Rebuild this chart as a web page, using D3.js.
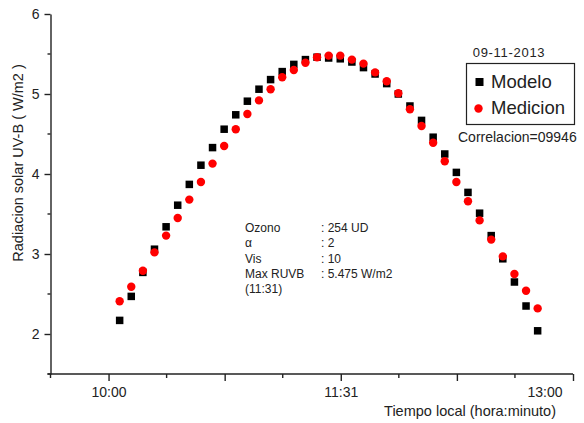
<!doctype html>
<html>
  <head>
    <meta charset="utf-8">
    <title>Radiacion UV-B</title>
    <script src="https://d3js.org/d3.v7.min.js"></script>
    <style type="text/css">
      body { margin: 0; background-color: #ffffff }
      text { font-family: "Liberation Sans", Arial, sans-serif; fill: #222 }
    </style>
  </head>
  <body>
    <script>
      // minutes after 10:00
      var minutos = [4.3, 8.8, 13.3, 17.8, 22.3, 26.8, 31.3, 35.8, 40.3, 44.8,
        49.3, 53.8, 58.3, 62.8, 67.3, 71.8, 76.3, 80.8, 85.3, 89.8,
        94.3, 98.8, 103.3, 107.8, 112.3, 116.8, 121.3, 125.8, 130.3, 134.8,
        139.3, 143.8, 148.3, 152.8, 157.3, 161.8, 166.3];

      var modelo = [2.17, 2.47, 2.77, 3.06, 3.34, 3.61, 3.87, 4.11, 4.33, 4.56,
        4.74, 4.91, 5.06, 5.18, 5.28, 5.37, 5.43, 5.46, 5.45, 5.44,
        5.40, 5.33, 5.25, 5.13, 5.00, 4.85, 4.67, 4.46, 4.25, 4.02,
        3.77, 3.51, 3.23, 2.94, 2.65, 2.35, 2.04];

      var medicion = [2.41, 2.59, 2.79, 3.02, 3.23, 3.45, 3.68, 3.90, 4.13, 4.35,
        4.56, 4.75, 4.92, 5.06, 5.21, 5.30, 5.39, 5.46, 5.48, 5.48,
        5.43, 5.38, 5.27, 5.16, 5.01, 4.81, 4.60, 4.39, 4.16, 3.90,
        3.66, 3.42, 3.18, 2.97, 2.75, 2.54, 2.32];

      var xMayor = [0, 45, 90, 135, 180];
      var xMenor = [-22.5, 22.5, 67.5, 112.5, 157.5];
      var xEtiquetas = {0: "10:00", 90: "11:31", 180: "13:00"};
      var yMayor = [2, 3, 4, 5, 6];
      var yMenor = [1.5, 2.5, 3.5, 4.5, 5.5];

      var info = [["Ozono", ": 254 UD"], ["\u03b1", ": 2"], ["Vis", ": 10"],
        ["Max RUVB", ": 5.475 W/m2"], ["(11:31)", ""]];

      var w = 584, h = 423;

      var x = d3.scaleLinear().domain([-22.5, 180]).range([50.5, 573]);
      var y = d3.scaleLinear().domain([1.5, 6]).range([374, 14]);

      var svg = d3.select("body").append("svg")
        .attr("width", w).attr("height", h);

      // axes
      var gx = svg.append("g").attr("transform", "translate(0," + y(1.5) + ")");
      gx.call(d3.axisBottom(x).tickValues(xMayor).tickSize(7).tickSizeOuter(0)
        .tickFormat(function(d) { return xEtiquetas[d] || ""; }));
      gx.selectAll(".menor").data(xMenor).enter().append("line")
        .attr("class", "menor")
        .attr("x1", function(d) { return x(d); }).attr("x2", function(d) { return x(d); })
        .attr("y1", 0).attr("y2", 4);
      gx.select(".domain").attr("d", "M" + (x.range()[0] - 3) + ",0H" + x.range()[1]);

      var gy = svg.append("g").attr("transform", "translate(" + x(-22.5) + ",0)");
      gy.call(d3.axisLeft(y).tickValues(yMayor).tickSize(6).tickSizeOuter(0)
        .tickFormat(d3.format("d")));
      gy.selectAll(".menor").data(yMenor).enter().append("line")
        .attr("class", "menor")
        .attr("x1", 0).attr("x2", -3)
        .attr("y1", function(d) { return y(d); }).attr("y2", function(d) { return y(d); });

      svg.selectAll(".domain, .tick line, .menor")
        .attr("stroke", "#222").attr("stroke-width", 1.4);
      svg.selectAll(".tick text")
        .attr("font-family", "Liberation Sans, Arial, sans-serif")
        .attr("font-size", 14).attr("fill", "#222");
      gx.selectAll(".tick text").attr("dy", "0.25em").attr("y", 19);
      // last label is pulled in from the right edge, as in the original
      gx.selectAll(".tick text").filter(function(d) { return d === 180; })
        .attr("text-anchor", "end").attr("dx", -11);
      gy.selectAll(".tick text").attr("x", -11);

      // axis titles
      svg.append("text")
        .attr("x", 556).attr("y", 416)
        .attr("text-anchor", "end").attr("font-size", 14.5)
        .text("Tiempo local (hora:minuto)");

      svg.append("text")
        .attr("transform", "translate(23,163) rotate(-90)")
        .attr("text-anchor", "middle").attr("font-size", 14.5)
        .text("Radiacion solar UV-B ( W/m2 )");

      // points
      var sq = 7.5;
      svg.append("g").selectAll("rect")
        .data(modelo).enter().append("rect")
        .attr("x", function(d, i) { return x(minutos[i]) - sq / 2; })
        .attr("y", function(d) { return y(d) - sq / 2; })
        .attr("width", sq).attr("height", sq)
        .attr("fill", "#000");

      svg.append("g").selectAll("circle")
        .data(medicion).enter().append("circle")
        .attr("cx", function(d, i) { return x(minutos[i]); })
        .attr("cy", function(d) { return y(d); })
        .attr("r", 4.2)
        .attr("fill", "#ff0000");

      // legend
      svg.append("text").attr("x", 509).attr("y", 57)
        .attr("text-anchor", "middle").attr("font-size", 13)
        .attr("letter-spacing", 0.7)
        .text("09-11-2013");
      svg.append("rect").attr("x", 466.5).attr("y", 63.5)
        .attr("width", 108).attr("height", 61)
        .attr("fill", "none").attr("stroke", "#222").attr("stroke-width", 1.2);
      svg.append("rect").attr("x", 475.5).attr("y", 78).attr("width", 8).attr("height", 8)
        .attr("fill", "#000");
      svg.append("text").attr("x", 491).attr("y", 88).attr("font-size", 18.5)
        .text("Modelo");
      svg.append("circle").attr("cx", 478.5).attr("cy", 108.5).attr("r", 4.2)
        .attr("fill", "#ff0000");
      svg.append("text").attr("x", 491).attr("y", 114).attr("font-size", 18.5)
        .text("Medicion");
      svg.append("text").attr("x", 458).attr("y", 142).attr("font-size", 14)
        .text("Correlacion=09946");

      // info block
      var gi = svg.append("g").attr("font-size", 12);
      gi.selectAll(".k").data(info).enter().append("text")
        .attr("x", 245).attr("y", function(d, i) { return 232 + i * 15.3; })
        .text(function(d) { return d[0]; });
      gi.selectAll(".v").data(info).enter().append("text")
        .attr("x", 321).attr("y", function(d, i) { return 232 + i * 15.3; })
        .text(function(d) { return d[1]; });
    </script>
  </body>
</html>
